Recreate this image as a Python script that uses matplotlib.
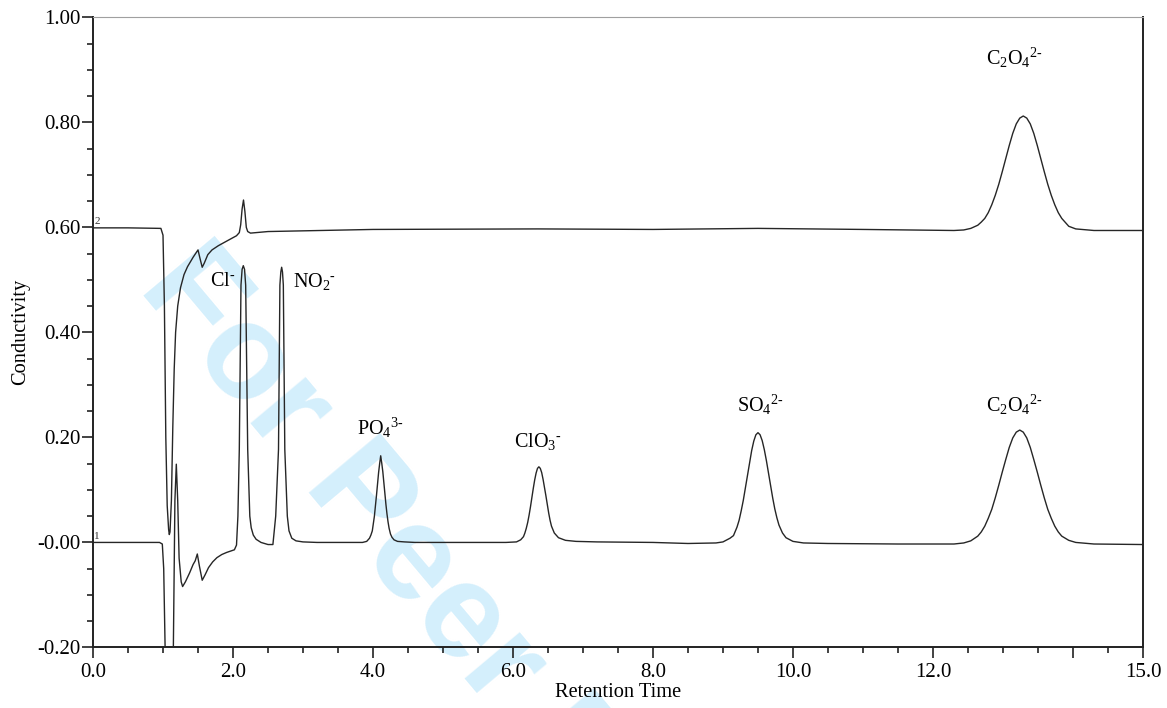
import matplotlib
matplotlib.use("Agg")
import matplotlib.pyplot as plt
from matplotlib.ticker import MultipleLocator, FixedLocator

plt.rcParams['font.family'] = ['Liberation Serif', 'DejaVu Serif']
plt.rcParams['mathtext.fontset'] = 'custom'
plt.rcParams['mathtext.rm'] = 'Liberation Serif'
plt.rcParams['mathtext.it'] = 'Liberation Serif:italic'
plt.rcParams['mathtext.bf'] = 'Liberation Serif:bold'

# ---- Trace 1 (sample, baseline 0) ----
t1 = [0.0, 0.5, 0.95, 0.99, 1.01, 1.03, 1.05, 1.10, 1.14, 1.155, 1.17, 1.19, 1.21, 1.23,
      1.26, 1.28, 1.32, 1.38, 1.43, 1.46, 1.49, 1.52, 1.56, 1.60, 1.65, 1.71, 1.77, 1.84,
      1.91, 2.02, 2.05, 2.07, 2.09, 2.114, 2.13, 2.147, 2.165, 2.181, 2.21, 2.24, 2.26, 2.29,
      2.33, 2.40, 2.50, 2.57, 2.61, 2.65, 2.67, 2.683, 2.695, 2.707, 2.719, 2.74, 2.776, 2.80,
      2.84, 2.90, 3.0, 3.2, 3.5, 3.85, 3.91, 3.95, 3.97, 3.99, 4.02, 4.035, 4.05, 4.065,
      4.08, 4.095, 4.11, 4.125, 4.14, 4.155, 4.17, 4.185, 4.20, 4.215, 4.23, 4.25, 4.27,
      4.30, 4.35, 4.45, 4.6, 5.0, 5.5, 5.9, 6.05, 6.11, 6.15, 6.17, 6.19, 6.21, 6.23, 6.25,
      6.27, 6.29, 6.31, 6.33, 6.35, 6.37, 6.39, 6.41, 6.43, 6.45, 6.47, 6.49, 6.51, 6.53,
      6.55, 6.59, 6.65, 6.75, 6.9, 7.2, 8.0, 8.5, 8.9, 9.0, 9.10, 9.15, 9.20, 9.23, 9.26,
      9.29, 9.32, 9.35, 9.38, 9.41, 9.44, 9.47, 9.50, 9.53, 9.56, 9.59, 9.62, 9.65, 9.68,
      9.71, 9.74, 9.77, 9.80, 9.85, 9.90, 10.0, 10.15, 10.5, 11.5, 12.3, 12.44, 12.54,
      12.64, 12.69, 12.74, 12.79, 12.84, 12.89, 12.94, 12.99, 13.04, 13.09, 13.14, 13.19,
      13.24, 13.29, 13.34, 13.39, 13.44, 13.49, 13.54, 13.59, 13.64, 13.69, 13.74, 13.79,
      13.84, 13.94, 14.04, 14.3, 15.0]
v1 = [0.000, 0.000, 0.000, -0.003, -0.05, -0.20, -0.32, -0.40, -0.30, -0.10, 0.08, 0.149, 0.08, -0.03,
      -0.075, -0.084, -0.075, -0.058, -0.042, -0.035, -0.022, -0.045, -0.072, -0.062, -0.048, -0.037, -0.029, -0.023,
      -0.019, -0.014, -0.005, 0.05, 0.177, 0.49, 0.52, 0.527, 0.52, 0.49, 0.177, 0.05, 0.028, 0.014,
      0.006, 0.0, -0.004, -0.004, 0.05, 0.177, 0.49, 0.515, 0.524, 0.515, 0.49, 0.177, 0.05, 0.022,
      0.008, 0.003, 0.001, 0.0, 0.0, 0.0, 0.002, 0.008, 0.014, 0.022, 0.050, 0.069, 0.090, 0.112,
      0.133, 0.150, 0.165, 0.151, 0.135, 0.114, 0.093, 0.072, 0.054, 0.039, 0.027, 0.016, 0.010,
      0.005, 0.002, 0.001, 0.0, 0.0, 0.0, 0.0, 0.001, 0.005, 0.011, 0.018, 0.027, 0.038, 0.052, 0.068,
      0.086, 0.103, 0.119, 0.132, 0.141, 0.144, 0.141, 0.133, 0.120, 0.105, 0.089, 0.072, 0.056, 0.042,
      0.031, 0.018, 0.009, 0.004, 0.002, 0.001, 0.0, -0.002, -0.001, 0.001, 0.008, 0.013, 0.029, 0.042, 0.060,
      0.080, 0.104, 0.128, 0.153, 0.175, 0.193, 0.205, 0.209, 0.205, 0.194, 0.177, 0.156, 0.132, 0.108,
      0.085, 0.064, 0.047, 0.033, 0.018, 0.009, 0.002, -0.001, -0.002, -0.003, -0.003, -0.001, 0.003,
      0.012, 0.020, 0.031, 0.046, 0.063, 0.085, 0.109, 0.134, 0.158, 0.181, 0.199, 0.210,
      0.214, 0.210, 0.199, 0.181, 0.158, 0.134, 0.109, 0.085, 0.063, 0.046, 0.031, 0.020,
      0.012, 0.004, 0.000, -0.003, -0.004]

# ---- Trace 2 (standard, baseline 0.6) ----
t2 = [0.0, 0.5, 0.97, 1.0, 1.02, 1.04, 1.06, 1.08, 1.09, 1.10, 1.12, 1.14, 1.16, 1.18, 1.21,
      1.25, 1.30, 1.35, 1.43, 1.48, 1.50, 1.53, 1.56, 1.59, 1.64, 1.70, 1.79, 1.94, 2.05,
      2.09, 2.11, 2.13, 2.15, 2.17, 2.19, 2.21, 2.25, 2.5, 4.0, 6.35, 8.0, 9.5, 11.0, 12.3,
      12.44, 12.54, 12.64, 12.69, 12.74, 12.79, 12.84, 12.89, 12.94, 12.99, 13.04, 13.09,
      13.14, 13.19, 13.24, 13.29, 13.34, 13.39, 13.44, 13.49, 13.54, 13.59, 13.64, 13.69,
      13.74, 13.79, 13.84, 13.94, 14.04, 14.3, 15.0]
v2 = [0.599, 0.599, 0.598, 0.585, 0.45, 0.20, 0.07, 0.025, 0.015, 0.02, 0.08, 0.22, 0.33, 0.40, 0.45,
      0.485, 0.51, 0.525, 0.543, 0.553, 0.557, 0.54, 0.524, 0.532, 0.548, 0.557, 0.565, 0.576, 0.584,
      0.590, 0.605, 0.635, 0.652, 0.630, 0.600, 0.592, 0.589, 0.592, 0.596, 0.597, 0.596, 0.598, 0.596, 0.594,
      0.595, 0.598, 0.604, 0.610, 0.617, 0.628, 0.643, 0.661, 0.682, 0.706, 0.731, 0.756,
      0.779, 0.797, 0.808, 0.812, 0.808, 0.797, 0.779, 0.756, 0.731, 0.706, 0.682, 0.661,
      0.643, 0.628, 0.617, 0.602, 0.597, 0.594, 0.594]

# ---- Peak labels ----
peak_labels = [r'Cl$^{\text{-}}$', r'NO$_2$$^{\text{-}}$', r'PO$_4$$^{3\text{-}}$', r'ClO$_3$$^{\text{-}}$',
               r'SO$_4$$^{2\text{-}}$', r'C$_2$O$_4$$^{2\text{-}}$', r'C$_2$O$_4$$^{2\text{-}}$']
label_t = [1.85, 3.17, 4.10, 6.36, 9.53, 13.17, 13.17]
label_v = [0.497, 0.497, 0.218, 0.193, 0.261, 0.261, 0.922]

x_major = [0, 2, 4, 6, 8, 10, 12, 14, 15]
x_labels = ['0.0', '2.0', '4.0', '6.0', '8.0', '10.0', '12.0', '', '15.0']
y_major = [-0.2, 0.0, 0.2, 0.4, 0.6, 0.8, 1.0]
y_labels = ['-0.20', '-0.00', '0.20', '0.40', '0.60', '0.80', '1.00']

fig = plt.figure(figsize=(11.67, 7.08), dpi=100)
ax = fig.add_axes([0.0797, 0.0855, 0.8997, 0.8901])

# watermark
ax.text(0.14, 0.625, 'For Peer Review', transform=fig.transFigure, rotation=-50,
        rotation_mode='anchor', ha='left', va='center', fontsize=98, fontweight='bold',
        family='Liberation Sans', color='#d4effc', zorder=0, clip_on=False)

line_color = '#262626'
ax.plot(t2, v2, color=line_color, lw=1.0, zorder=3)
ax.plot(t1, v1, color=line_color, lw=1.0, zorder=3)

for lab, tx, vy in zip(peak_labels, label_t, label_v):
    ax.text(tx, vy, lab, ha='center', va='center', fontsize=14.5, color='black', zorder=4)

ax.text(0.02, 0.602, '2', fontsize=8, color='#333333', ha='left', va='bottom')
ax.text(0.02, 0.002, '1', fontsize=8, color='#333333', ha='left', va='bottom')

ax.set_xlim(0, 15)
ax.set_ylim(-0.2, 1.0)
ax.xaxis.set_major_locator(FixedLocator(x_major))
ax.set_xticklabels(x_labels)
ax.xaxis.set_minor_locator(MultipleLocator(0.5))
ax.yaxis.set_major_locator(FixedLocator(y_major))
ax.set_yticklabels(y_labels)
ax.yaxis.set_minor_locator(MultipleLocator(0.05))

ax.tick_params(axis='both', which='major', direction='out', length=8, width=1.2,
               labelsize=15, pad=1, color='#222222')
ax.tick_params(axis='x', which='major', pad=3)
ax.tick_params(axis='both', which='minor', direction='out', length=4, width=1.2, color='#222222')

ax.spines['top'].set_color('#a0a0a0')
ax.spines['top'].set_linewidth(0.8)
for s in ['left', 'bottom', 'right']:
    ax.spines[s].set_color('#222222')
    ax.spines[s].set_linewidth(1.4)

ax.set_xlabel('Retention Time', fontsize=14.7, labelpad=1)
ax.set_ylabel('Conductivity', fontsize=14.7, labelpad=5)

fig.savefig('out.png', dpi=100)
